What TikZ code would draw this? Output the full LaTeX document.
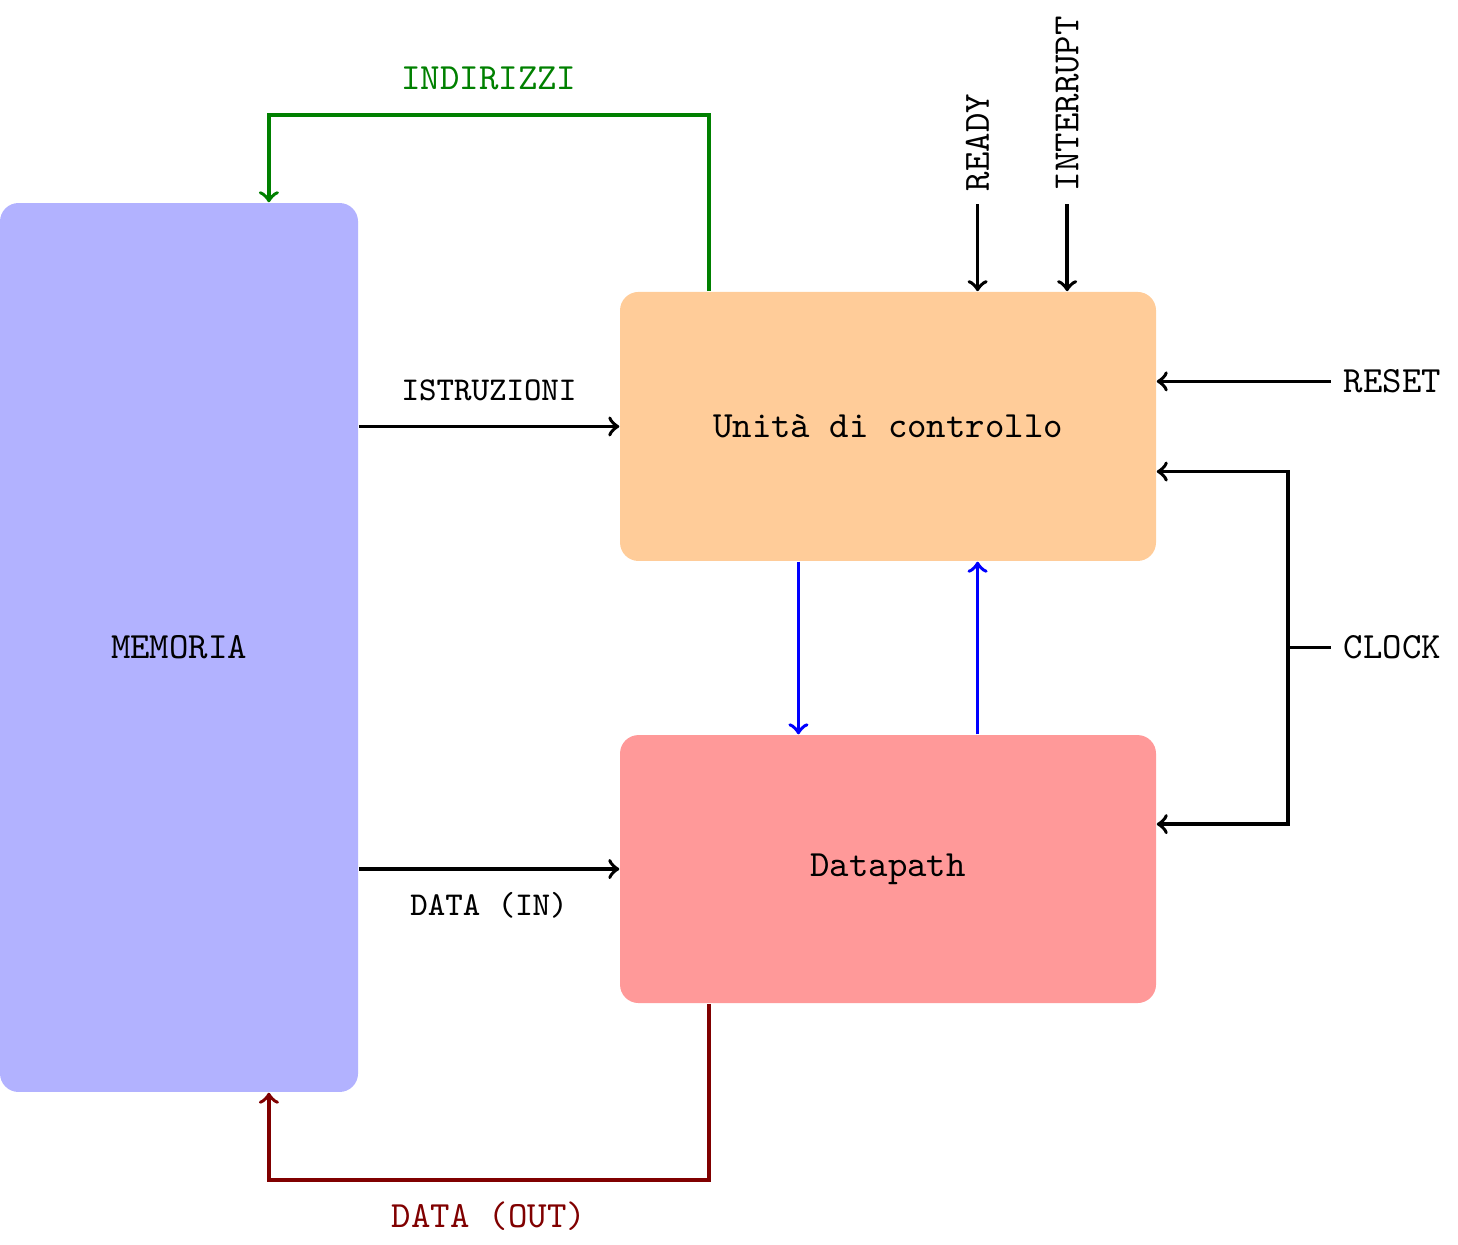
\documentclass[tikz,border=0pt]{standalone}
\usetikzlibrary{calc}
\begin{document}
\begin{tikzpicture}[font=\ttfamily,
  blocco/.style={rounded corners=5pt, inner sep=0pt},
  freccia/.style={->, line width=1pt},
  piccolo/.style={font=\ttfamily\small}]
\useasboundingbox (0,0) rectangle (13.846,-11.814);
% blocchi
\node[blocco, fill=blue!30, minimum width=3.4cm, minimum height=8.442cm] (mem) at (1.7,-6.149) {MEMORIA};
\node[blocco, fill=orange!40, minimum width=5.09cm, minimum height=2.555cm] (cu) at (8.433,-4.05) {Unità di controllo};
\node[blocco, fill=red!40, minimum width=5.09cm, minimum height=2.545cm] (dp) at (8.433,-8.253) {Datapath};
% memoria -> unita / datapath
\draw[freccia] (cu.west -| mem.east) -- (cu.west) node[midway, above=3pt, piccolo] (istr) {ISTRUZIONI};
\draw[freccia] (dp.west -| mem.east) -- (dp.west) node[midway, below=2.5pt, piccolo] (din) {DATA (IN)};
% indirizzi e dati in uscita
\coordinate (cu1) at ($(cu.north west)!1/6!(cu.north east)$);
\coordinate (memt) at ($(mem.north west)!3/4!(mem.north east)$);
\draw[freccia, green!50!black] (cu1) -- ++(0,1.671) -| (memt) node[pos=0.25, above=3pt] (ind) {INDIRIZZI};
\coordinate (dp1) at ($(dp.south west)!1/6!(dp.south east)$);
\coordinate (memb) at ($(mem.south west)!3/4!(mem.south east)$);
\draw[freccia, red!50!black] (dp1) -- ++(0,-1.671) -| (memb) node[pos=0.25, below=2pt] (dout) {DATA (OUT)};
% unita <-> datapath
\draw[freccia, blue] ($(cu.south west)!1/3!(cu.south east)$) -- ($(dp.north west)!1/3!(dp.north east)$);
\draw[freccia, blue] ($(dp.north west)!2/3!(dp.north east)$) -- ($(cu.south west)!2/3!(cu.south east)$);
% segnali esterni
\foreach \f/\nome/\testo in {0.6667/ready/READY, 0.8333/intr/INTERRUPT} {
  \node[rotate=90, anchor=west] (\nome) at ($(cu.north west)!\f!(cu.north east) + (0,0.826)$) {\testo};
  \draw[freccia] (\nome.west) -- (\nome.west |- cu.north);
}
\node[anchor=west] (reset) at ($(cu.north east)!1/3!(cu.south east) + (1.652,0)$) {RESET};
\draw[freccia] (reset.west) -- (reset.west -| cu.east);
\node[anchor=west] (clock) at (reset.west |- mem.center) {CLOCK};
\coordinate (clk) at ($(clock.west) + (-0.408,0)$);
\draw[line width=1pt] (clock.west) -- (clk);
\draw[freccia] (clk) |- ($(cu.north east)!2/3!(cu.south east)$);
\draw[freccia] (clk) |- ($(dp.north east)!1/3!(dp.south east)$);
\end{tikzpicture}
\end{document}
